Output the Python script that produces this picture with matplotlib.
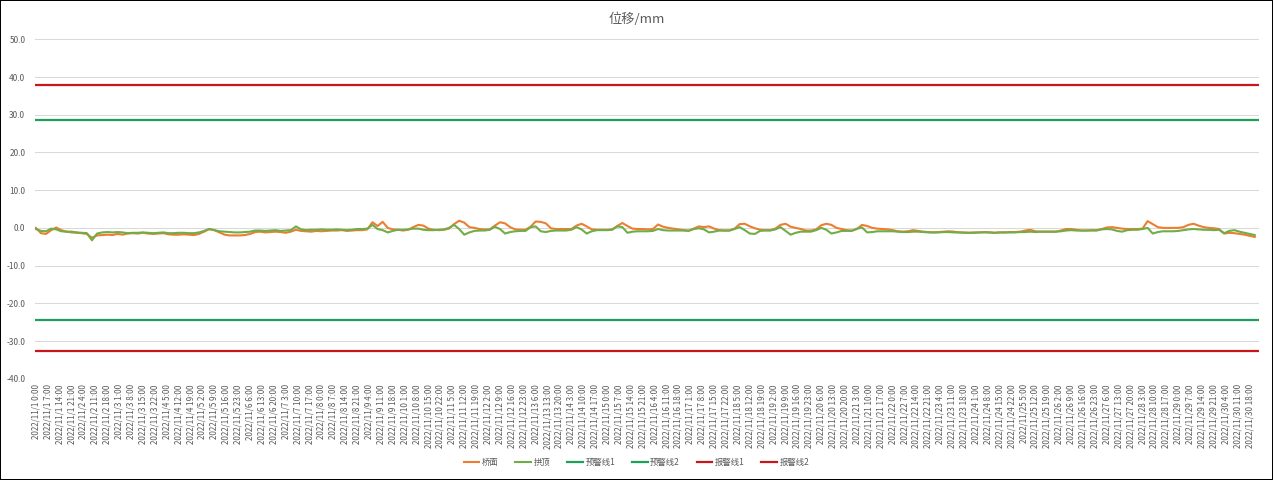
import matplotlib.pyplot as plt
import numpy as np

plt.rcParams['font.family'] = ['Noto Sans CJK SC', 'DejaVu Sans']

# 小时序号 (每3小时读一个值)
n_hours = 720
hours = np.arange(0, n_hours, 3)

bridge = [
    0.0, -1.4, -1.6, -0.6, 0.1, -0.6, -1.0, -1.2,
    -1.3, -1.4, -1.6, -2.6, -2.0, -1.9, -1.8, -1.9,
    -1.6, -1.8, -1.5, -1.4, -1.5, -1.3, -1.5, -1.6,
    -1.5, -1.4, -1.7, -1.8, -1.8, -1.7, -1.8, -1.9,
    -1.6, -1.0, -0.3, -0.6, -1.2, -1.8, -2.0, -2.0,
    -2.0, -1.9, -1.6, -1.1, -1.0, -1.2, -1.1, -1.0,
    -1.1, -1.3, -1.0, -0.5, -0.8, -0.9, -1.0, -0.8,
    -0.9, -0.8, -0.7, -0.7, -0.6, -0.8, -0.7, -0.6,
    -0.6, -0.4, 1.5, 0.5, 1.6, 0.0, -0.4, -0.5,
    -0.7, -0.5, 0.2, 0.8, 0.6, -0.2, -0.5, -0.6,
    -0.5, -0.2, 1.0, 1.9, 1.4, 0.2, 0.0, -0.3,
    -0.4, -0.4, 0.6, 1.5, 1.2, 0.2, -0.4, -0.5,
    -0.5, 0.3, 1.7, 1.6, 1.2, -0.1, -0.3, -0.3,
    -0.3, -0.3, 0.6, 1.1, 0.4, -0.4, -0.5, -0.5,
    -0.5, -0.4, 0.5, 1.3, 0.5, -0.2, -0.3, -0.3,
    -0.4, -0.3, 0.9, 0.3, 0.0, -0.2, -0.4, -0.6,
    -0.7, -0.2, 0.4, 0.2, 0.4, -0.2, -0.6, -0.7,
    -0.7, -0.2, 1.0, 1.1, 0.4, -0.1, -0.5, -0.6,
    -0.6, -0.2, 0.8, 1.1, 0.3, 0.0, -0.3, -0.7,
    -0.7, -0.4, 0.7, 1.1, 0.8, 0.0, -0.3, -0.6,
    -0.7, -0.3, 0.8, 0.5, 0.0, -0.2, -0.3, -0.4,
    -0.6, -0.9, -1.0, -0.9, -0.6, -0.8, -1.0, -1.1,
    -1.2, -1.1, -1.0, -0.9, -1.0, -1.2, -1.2, -1.3,
    -1.2, -1.2, -1.1, -1.2, -1.3, -1.2, -1.2, -1.1,
    -1.1, -1.0, -0.7, -0.5, -0.9, -1.0, -1.0, -1.0,
    -1.0, -0.7, -0.3, -0.3, -0.5, -0.7, -0.7, -0.6,
    -0.6, -0.3, 0.1, 0.2, 0.0, -0.2, -0.3, -0.3,
    -0.3, -0.2, 1.8, 1.0, 0.2, 0.0, 0.0, 0.0,
    0.0, 0.2, 0.8, 1.1, 0.6, 0.2, 0.0, -0.1,
    -0.3, -1.5, -1.3, -1.4, -1.6, -1.8, -2.1, -2.4,
]

arch = [
    -0.3, -0.8, -0.9, -0.2, -0.4, -0.9, -1.0, -1.0,
    -1.2, -1.3, -1.4, -3.3, -1.5, -1.2, -1.1, -1.2,
    -1.1, -1.2, -1.4, -1.3, -1.3, -1.2, -1.3, -1.4,
    -1.3, -1.2, -1.4, -1.4, -1.3, -1.3, -1.4, -1.4,
    -1.2, -0.8, -0.3, -0.6, -0.9, -1.0, -1.1, -1.2,
    -1.2, -1.1, -1.0, -0.7, -0.7, -0.8, -0.7, -0.6,
    -0.8, -0.7, -0.6, 0.4, -0.4, -0.6, -0.5, -0.5,
    -0.4, -0.5, -0.5, -0.4, -0.5, -0.6, -0.5, -0.3,
    -0.3, -0.2, 0.8, -0.3, -0.6, -1.2, -0.8, -0.5,
    -0.5, -0.4, -0.2, -0.2, -0.5, -0.6, -0.6, -0.5,
    -0.4, 0.0, 0.8, -0.3, -1.8, -1.2, -0.8, -0.7,
    -0.7, -0.5, 0.3, -0.3, -1.5, -1.1, -0.9, -0.8,
    -0.8, 0.2, 0.4, -0.9, -1.1, -0.8, -0.7, -0.7,
    -0.7, -0.5, 0.2, -0.4, -1.5, -0.9, -0.6, -0.6,
    -0.6, -0.5, 0.4, 0.2, -1.3, -1.0, -0.9, -0.9,
    -0.9, -0.8, -0.3, -0.6, -0.7, -0.7, -0.7, -0.7,
    -0.8, -0.3, -0.1, -0.4, -1.2, -1.0, -0.7, -0.7,
    -0.7, -0.3, 0.2, -0.6, -1.5, -1.6, -0.8, -0.7,
    -0.7, -0.4, 0.2, -0.8, -1.8, -1.3, -1.0, -1.0,
    -1.0, -0.6, 0.0, -0.5, -1.5, -1.2, -0.8, -0.8,
    -0.8, -0.2, 0.1, -1.2, -1.1, -0.9, -0.9, -0.9,
    -0.9, -1.0, -1.1, -1.1, -1.0, -1.0, -1.1, -1.2,
    -1.2, -1.2, -1.1, -1.1, -1.2, -1.2, -1.3, -1.3,
    -1.3, -1.2, -1.2, -1.2, -1.3, -1.2, -1.2, -1.2,
    -1.2, -1.1, -1.1, -1.0, -1.1, -1.0, -1.0, -1.0,
    -1.0, -0.9, -0.7, -0.6, -0.7, -0.7, -0.7, -0.7,
    -0.7, -0.4, -0.3, -0.4, -0.8, -1.0, -0.6, -0.5,
    -0.5, -0.3, 0.0, -1.5, -1.1, -0.9, -0.9, -0.9,
    -0.8, -0.6, -0.4, -0.3, -0.4, -0.5, -0.5, -0.6,
    -0.5, -1.4, -0.8, -0.6, -1.0, -1.3, -1.6, -1.9,
]

warn_levels = [28.5, -24.4]    # 预警线1, 预警线2
alarm_levels = [37.8, -32.6]   # 报警线1, 报警线2

tick_step = 7
tick_pos = np.arange(0, n_hours, tick_step)
tick_labels = [f"2022/11/{h // 24 + 1} {h % 24}:00" for h in tick_pos]

fig = plt.figure(figsize=(12.73, 4.8), dpi=100)
fig.patch.set_edgecolor('black')
fig.patch.set_linewidth(1.2)
ax = fig.add_axes([0.0275, 0.211, 0.9615, 0.707])

all_hours = np.arange(n_hours)
ax.plot(hours, bridge, color='#ED7D31', lw=1.5, label='桥面')
ax.plot(hours, arch, color='#70AD47', lw=1.5, label='拱顶')
for i, v in enumerate(warn_levels):
    ax.plot(all_hours, np.full(n_hours, v), color='#1FA05A', lw=1.6, label=f'预警线{i + 1}')
for i, v in enumerate(alarm_levels):
    ax.plot(all_hours, np.full(n_hours, v), color='#C8161D', lw=1.6, label=f'报警线{i + 1}')

ax.set_xlim(-0.5, n_hours - 0.5)
ax.set_ylim(-40, 50)
ax.set_yticks(np.arange(-40, 51, 10))
ax.set_yticklabels([f"{v:.1f}" for v in np.arange(-40, 51, 10)])
ax.set_xticks(tick_pos)
ax.set_xticklabels(tick_labels, rotation=90)
ax.tick_params(axis='both', length=0, labelcolor='#595959')
ax.tick_params(axis='x', labelsize=5.8, pad=4)
ax.tick_params(axis='y', labelsize=6, pad=7)
ax.grid(axis='y', color='#D9D9D9', lw=0.75)
ax.set_axisbelow(True)
for s in ax.spines.values():
    s.set_visible(False)

fig.text(0.5, 0.96, '位移/mm', ha='center', va='center', fontsize=9.5, color='#595959')
fig.legend(loc='center', bbox_to_anchor=(0.5, 0.037), ncol=6, frameon=False,
           fontsize=6, labelcolor='#595959', handlelength=1.9, columnspacing=2.0,
           handletextpad=0.3)

fig.savefig('out.png', dpi=100)
